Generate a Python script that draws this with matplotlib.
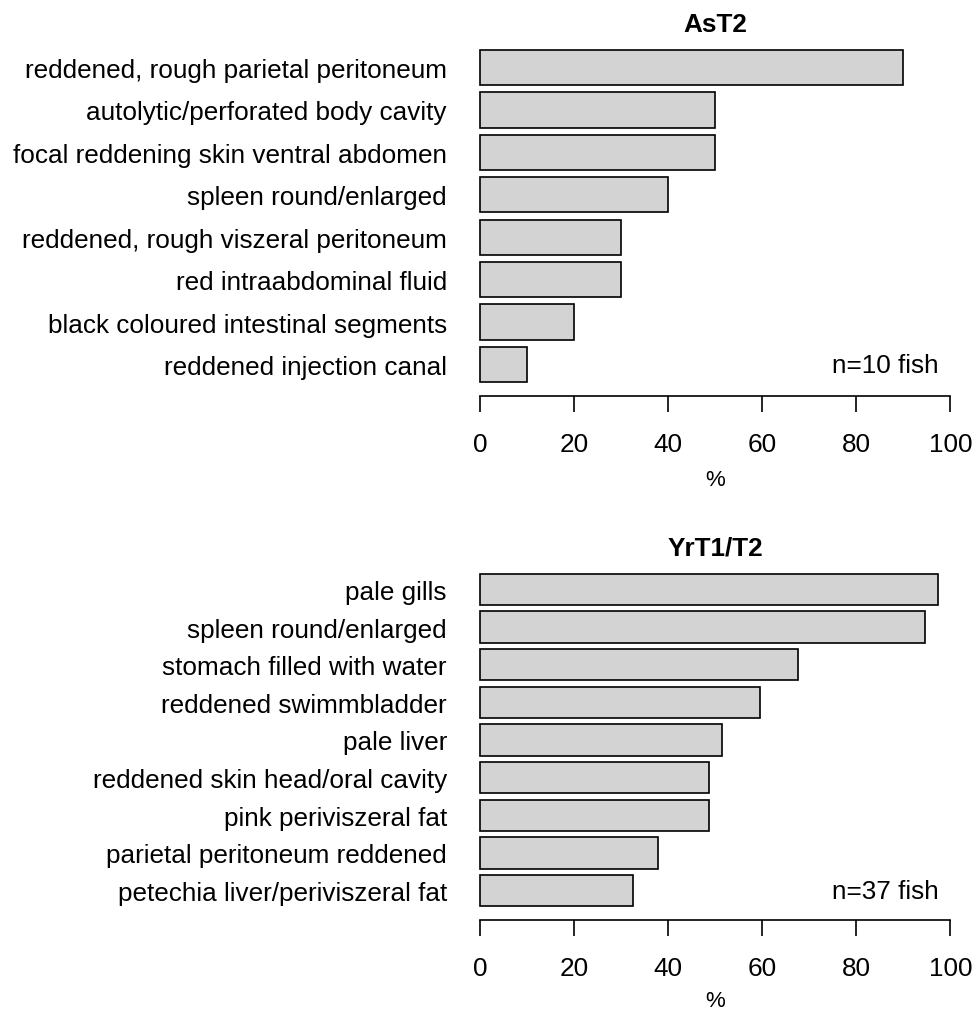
import numpy as np
import matplotlib
matplotlib.use("Agg")
import matplotlib.pyplot as plt

plt.rcParams['font.family'] = ['Liberation Sans', 'DejaVu Sans']

# panel 1 (top to bottom)
ast2_labels = ['reddened, rough parietal peritoneum', 'autolytic/perforated body cavity',
               'focal reddening skin ventral abdomen', 'spleen round/enlarged',
               'reddened, rough viszeral peritoneum', 'red intraabdominal fluid',
               'black coloured intestinal segments', 'reddened injection canal']
ast2_pct = [90, 50, 50, 40, 30, 30, 20, 10]

# panel 2 (top to bottom), n=37 fish
yrt_labels = ['pale gills', 'spleen round/enlarged', 'stomach filled with water',
              'reddened swimmbladder', 'pale liver', 'reddened skin head/oral cavity',
              'pink periviszeral fat', 'parietal peritoneum reddened',
              'petechia liver/periviszeral fat']
yrt_pct = [97.3, 94.6, 67.6, 59.5, 51.4, 48.6, 48.6, 37.8, 32.4]

W, H = 976, 1012
FS = 18.8
fig = plt.figure(figsize=(W / 100, H / 100), dpi=100)


def panel(top_px, labels, vals, title, note, xlab_pad):
    n = len(vals)
    lo, hi = 0.2, 1.2 * n
    pad = (hi - lo) * 0.04
    ylim = (lo - pad, hi + pad)
    left_px, right_px = 461.5, 969.1
    height_px = 359.0
    ax = fig.add_axes([left_px / W, 1 - (top_px + height_px) / H,
                       (right_px - left_px) / W, height_px / H])
    # R style: first bar at bottom
    y = 0.7 + 1.2 * np.arange(n)
    ax.barh(y, vals[::-1], height=1.0, color='#d3d3d3', edgecolor='black', linewidth=1.2)
    ax.set_xlim(-4, 104)
    ax.set_ylim(*ylim)
    for s in ['top', 'right', 'left']:
        ax.spines[s].set_visible(False)
    ax.spines['bottom'].set_bounds(0, 100)
    ax.spines['bottom'].set_linewidth(1.2)
    ax.set_xticks([0, 20, 40, 60, 80, 100])
    ax.tick_params(axis='x', length=11.5, width=1.2, labelsize=FS, pad=15)
    ax.set_yticks(y)
    ax.set_yticklabels(labels[::-1], fontsize=FS)
    ax.tick_params(axis='y', length=0, pad=10.5)
    ax.set_xlabel('%', fontsize=16, labelpad=xlab_pad)
    ax.set_title(title, fontsize=FS, fontweight='bold', pad=4)
    ax.text(97.5, y[0], note, ha='right', va='center', fontsize=FS)
    return ax


panel(37.5, ast2_labels, ast2_pct, 'AsT2', 'n=10 fish', 9)
panel(561.5, yrt_labels, yrt_pct, 'YrT1/T2', 'n=37 fish', 7)

fig.savefig('out.png', dpi=100)
